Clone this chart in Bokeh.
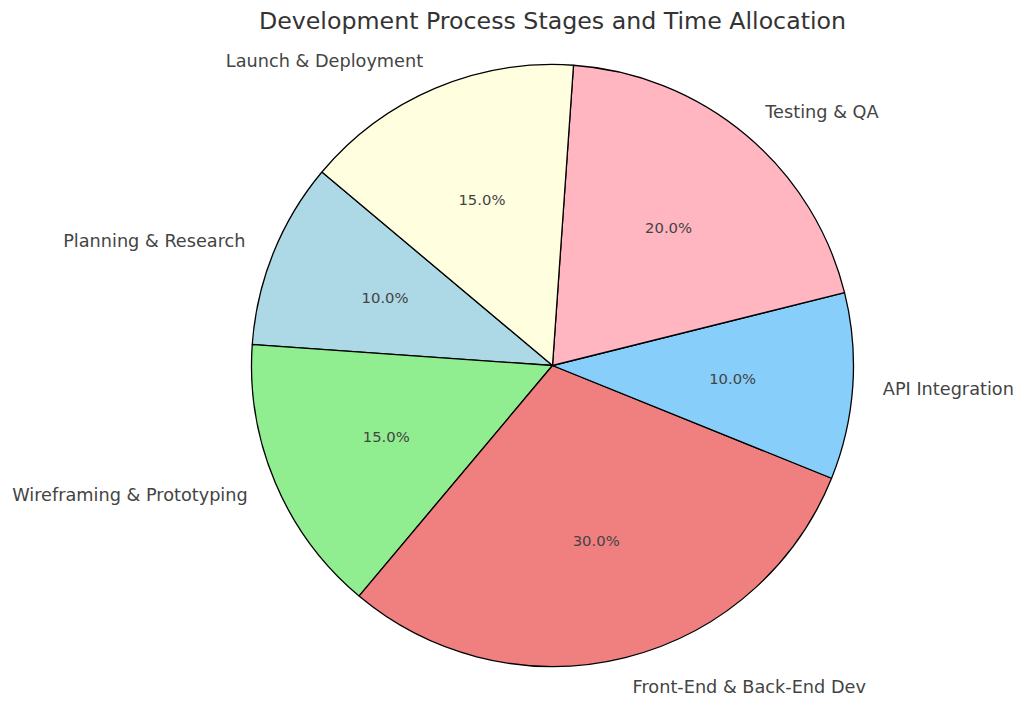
import math
from bokeh.plotting import figure
from bokeh.models import Range1d, ColumnDataSource
from bokeh.core.properties import value
from bokeh.embed import file_html
from bokeh.resources import INLINE

title = "Development Process Stages and Time Allocation"
stages = ["Planning & Research", "Wireframing & Prototyping", "Front-End & Back-End Dev",
          "API Integration", "Testing & QA", "Launch & Deployment"]
shares = [10, 15, 30, 10, 20, 15]
colors = ["#ADD8E6", "#90EE90", "#F08080", "#87CEFA", "#FFB6C1", "#FFFFE0"]
start_angle_deg = 140

W, H = 1024, 706
cx_px, cy_px = 552, 365   # pie centre inside the figure (pixels from top-left)
R = 301                   # pie radius in pixels (1 data unit == 1 px)

p = figure(width=W, height=H, output_backend="svg", toolbar_location=None,
           x_range=Range1d(-cx_px, W - cx_px), y_range=Range1d(-(H - cy_px), cy_px),
           min_border=0)
p.axis.visible = False
p.grid.visible = False
p.outline_line_color = None
p.background_fill_color = "white"
p.border_fill_color = "white"

total = float(sum(shares))
starts, ends, mids = [], [], []
a = math.radians(start_angle_deg)
for s in shares:
    da = 2 * math.pi * s / total
    starts.append(a)
    ends.append(a + da)
    mids.append(a + da / 2)
    a += da

src = ColumnDataSource(dict(start=starts, end=ends, color=colors))
p.wedge(x=0, y=0, radius=R, start_angle="start", end_angle="end", source=src,
        fill_color="color", line_color="black", line_width=1.3, direction="anticlock")

font = value("DejaVu Sans")
txt_color = "#444444"

# percentage labels at 0.6 r
pct_src = ColumnDataSource(dict(
    x=[0.6 * R * math.cos(m) for m in mids],
    y=[0.6 * R * math.sin(m) for m in mids],
    t=["%.1f%%" % (100 * s / total) for s in shares]))
p.text(x="x", y="y", text="t", source=pct_src, text_font=font, text_font_size="14.8px",
       text_color=txt_color, text_align="center", text_baseline="middle")

# category labels at 1.1 r
lx = [1.1 * R * math.cos(m) for m in mids]
ly = [1.1 * R * math.sin(m) for m in mids]
lab_src = ColumnDataSource(dict(x=lx, y=ly, t=stages,
                                align=["left" if x > 0 else "right" for x in lx]))
p.text(x="x", y="y", text="t", source=lab_src, text_font=font, text_font_size="17.7px",
       text_color=txt_color, text_align="align", text_baseline="middle")

# title
p.text(x=[0], y=[cy_px - 20], text=[title], text_font=font, text_font_size="23.7px",
       text_color="#333333", text_align="center", text_baseline="middle")

open("out.html", "w").write(file_html(p, INLINE))
